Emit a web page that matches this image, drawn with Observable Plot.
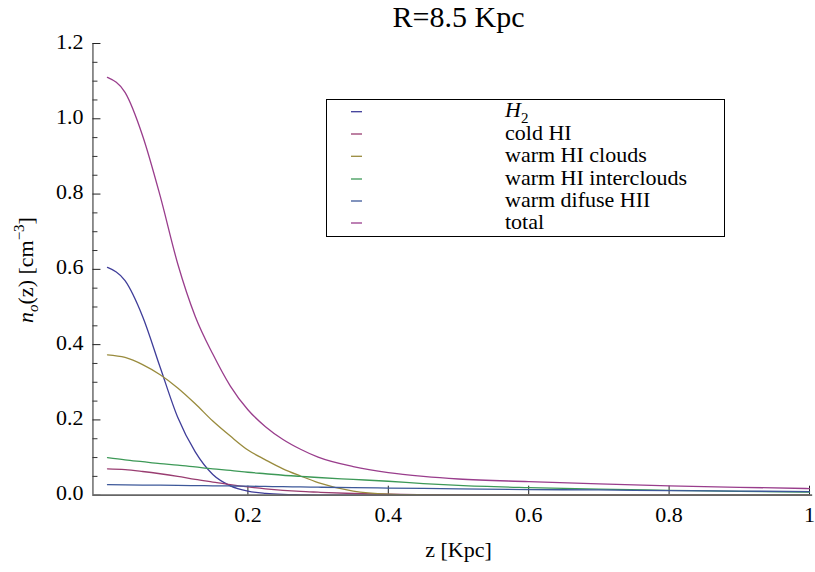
<!DOCTYPE html>
<html>
<head>
<meta charset="utf-8">
<script src="https://cdn.jsdelivr.net/npm/d3@7"></script>
<script src="https://cdn.jsdelivr.net/npm/@observablehq/plot@0.6"></script>
<style>
  html, body { margin: 0; padding: 0; background: #fff; font-family: "Liberation Serif"; }
  #chart svg { display: block; }
  #chart svg text, #chart svg tspan { font-family: "Liberation Serif" !important; }
</style>
</head>
<body>
<div id="chart"></div>
<script>
// ---- data ----
const z = [0, 0.025, 0.05, 0.075, 0.1, 0.125, 0.15, 0.175, 0.2, 0.225, 0.25, 0.275, 0.3, 0.35, 0.4, 0.45, 0.5, 0.6, 0.7, 0.8, 0.9, 1.0];
const h2         = [0.605, 0.57, 0.475, 0.34, 0.207, 0.115, 0.055, 0.025, 0.011, 0.005, 0.002, 0.001, 0.0003, 0, 0, 0, 0, 0, 0, 0, 0, 0];
const coldHI     = [0.070, 0.068, 0.063, 0.057, 0.050, 0.042, 0.035, 0.028, 0.022, 0.017, 0.013, 0.010, 0.008, 0.0045, 0.0025, 0.0015, 0.0008, 0.0003, 0.0001, 0, 0, 0];
const warmClouds = [0.373, 0.366, 0.347, 0.32, 0.285, 0.243, 0.197, 0.157, 0.12, 0.094, 0.07, 0.051, 0.0335, 0.011, 0.003, 0.001, 0.0003, 0, 0, 0, 0, 0];
const warmInter  = [0.100, 0.094, 0.089, 0.084, 0.080, 0.075, 0.070, 0.066, 0.061, 0.057, 0.053, 0.050, 0.047, 0.042, 0.037, 0.031, 0.026, 0.020, 0.016, 0.013, 0.010, 0.008];
const diffuseHII = [0.028, 0.0275, 0.027, 0.0265, 0.026, 0.0255, 0.025, 0.0245, 0.024, 0.0233, 0.0226, 0.022, 0.0213, 0.020, 0.019, 0.018, 0.017, 0.015, 0.014, 0.012, 0.011, 0.0095];
const total      = [1.11, 1.07, 0.955, 0.795, 0.615, 0.475, 0.375, 0.29, 0.227, 0.182, 0.148, 0.122, 0.101, 0.076, 0.060, 0.050, 0.043, 0.036, 0.030, 0.025, 0.021, 0.0176];

const seriesNames  = ["H2", "cold HI", "warm HI clouds", "warm HI interclouds", "warm difuse HII", "total"];
const seriesValues = [h2, coldHI, warmClouds, warmInter, diffuseHII, total];
const seriesColors = ["#3f3d99", "#993d71", "#998b3d", "#3d9957", "#3d5899", "#993d8c"];

const yMajor = [0, 0.2, 0.4, 0.6, 0.8, 1.0, 1.2];
const yMinor = [0.05, 0.1, 0.15, 0.25, 0.3, 0.35, 0.45, 0.5, 0.55, 0.65, 0.7, 0.75, 0.85, 0.9, 0.95, 1.05, 1.1, 1.15];
const xTicks = [0.2, 0.4, 0.6, 0.8, 1.0];
const xTickLabels = ["0.2", "0.4", "0.6", "0.8", "1"];

const titleText = "R=8.5 Kpc";
const xLabel = "z [Kpc]";

// ---- build table ----
const rows = seriesNames.flatMap((name, i) => z.map((zz, j) => ({series: name, z: zz, v: seriesValues[i][j]})));

const FONT = "Liberation Serif";
const X0 = -0.0207;            // where the vertical axis sits (in z units)
const pxX = 1 / 702, pxY = 1.2 / 451.7;

const chart = Plot.plot({
  width: 815,
  height: 572,
  marginLeft: 0, marginRight: 0, marginTop: 0, marginBottom: 0,
  x: {domain: [0, 1], range: [107, 809], axis: null},
  y: {domain: [0, 1.2], range: [494.7, 43], axis: null},
  color: {domain: seriesNames, range: seriesColors},
  style: {background: "white", color: "black", overflow: "visible"},
  marks: [
    Plot.ruleX([X0], {y1: 0, y2: 1.2, stroke: "#222", strokeWidth: 1}),
    Plot.ruleY(yMinor, {y: d => d, x1: X0, x2: X0 + 5 * pxX, stroke: "#333", strokeWidth: 1}),
    Plot.ruleY(yMajor, {y: d => d, x1: X0, x2: X0 + 8 * pxX, stroke: "#222", strokeWidth: 1}),
    Plot.ruleX(xTicks, {x: d => d, y1: 0, y2: 9 * pxY, stroke: "#222", strokeWidth: 1}),
    Plot.line(rows, {x: "z", y: "v", z: "series", stroke: "series", curve: "monotone-x", strokeWidth: 1.3}),
    Plot.ruleY([0], {x1: X0, x2: 1.0045, stroke: "#666", strokeWidth: 1.8}),
    Plot.text(yMajor, {x: X0, y: d => d, text: d => d.toFixed(1), textAnchor: "end", dx: -9.5, dy: -2, fontSize: 22, fontFamily: FONT}),
    Plot.text(xTicks, {x: d => d, y: 0, text: (d, i) => xTickLabels[i], lineAnchor: "top", dy: 11, fontSize: 22, fontFamily: FONT}),
    Plot.text([{x: 0.5, y: 0, t: xLabel}], {x: "x", y: "y", text: "t", lineAnchor: "bottom", dy: 62, fontSize: 22, fontFamily: FONT}),
    Plot.text([{x: 0.5, y: 1.2, t: titleText}], {x: "x", y: "y", text: "t", lineAnchor: "bottom", dy: -17, fontSize: 30, fontFamily: FONT})
  ]
});

document.getElementById("chart").appendChild(chart);

// ---- y-axis label with sub/superscripts ----
const svg = d3.select(chart);
const yl = svg.append("text")
  .attr("transform", "translate(33,270) rotate(-90)")
  .attr("text-anchor", "middle")
  .style("font-family", FONT)
  .attr("font-size", 22)
  .attr("fill", "black");
yl.append("tspan").attr("font-style", "italic").text("n");
yl.append("tspan").attr("font-style", "italic").attr("font-size", 15).attr("dy", 5).text("o");
yl.append("tspan").attr("dy", -5).text("(z) [cm");
yl.append("tspan").attr("font-size", 15).attr("dy", -9).text("\u22123");
yl.append("tspan").attr("dy", 9).text("]");

// ---- legend ----
const lg = svg.append("g").style("font-family", FONT).attr("font-size", 22).attr("text-anchor", "start");
lg.append("rect").attr("x", 326.5).attr("y", 99.5).attr("width", 398).attr("height", 137)
  .attr("fill", "white").attr("stroke", "black").attr("stroke-width", 1);
const rowY = [111.7, 134, 156.3, 179, 201, 223];
seriesNames.forEach((name, i) => {
  lg.append("line").attr("x1", 351).attr("x2", 362).attr("y1", rowY[i]).attr("y2", rowY[i])
    .attr("stroke", seriesColors[i]).attr("stroke-width", 1.3);
  const t = lg.append("text").attr("x", 505).attr("y", rowY[i] + 5.5).attr("fill", "black").attr("text-anchor", "start");
  if (name === "H2") {
    t.append("tspan").attr("font-style", "italic").text("H");
    t.append("tspan").attr("font-size", 15).attr("dy", 6).text("2");
  } else {
    t.text(name);
  }
});
</script>
</body>
</html>
